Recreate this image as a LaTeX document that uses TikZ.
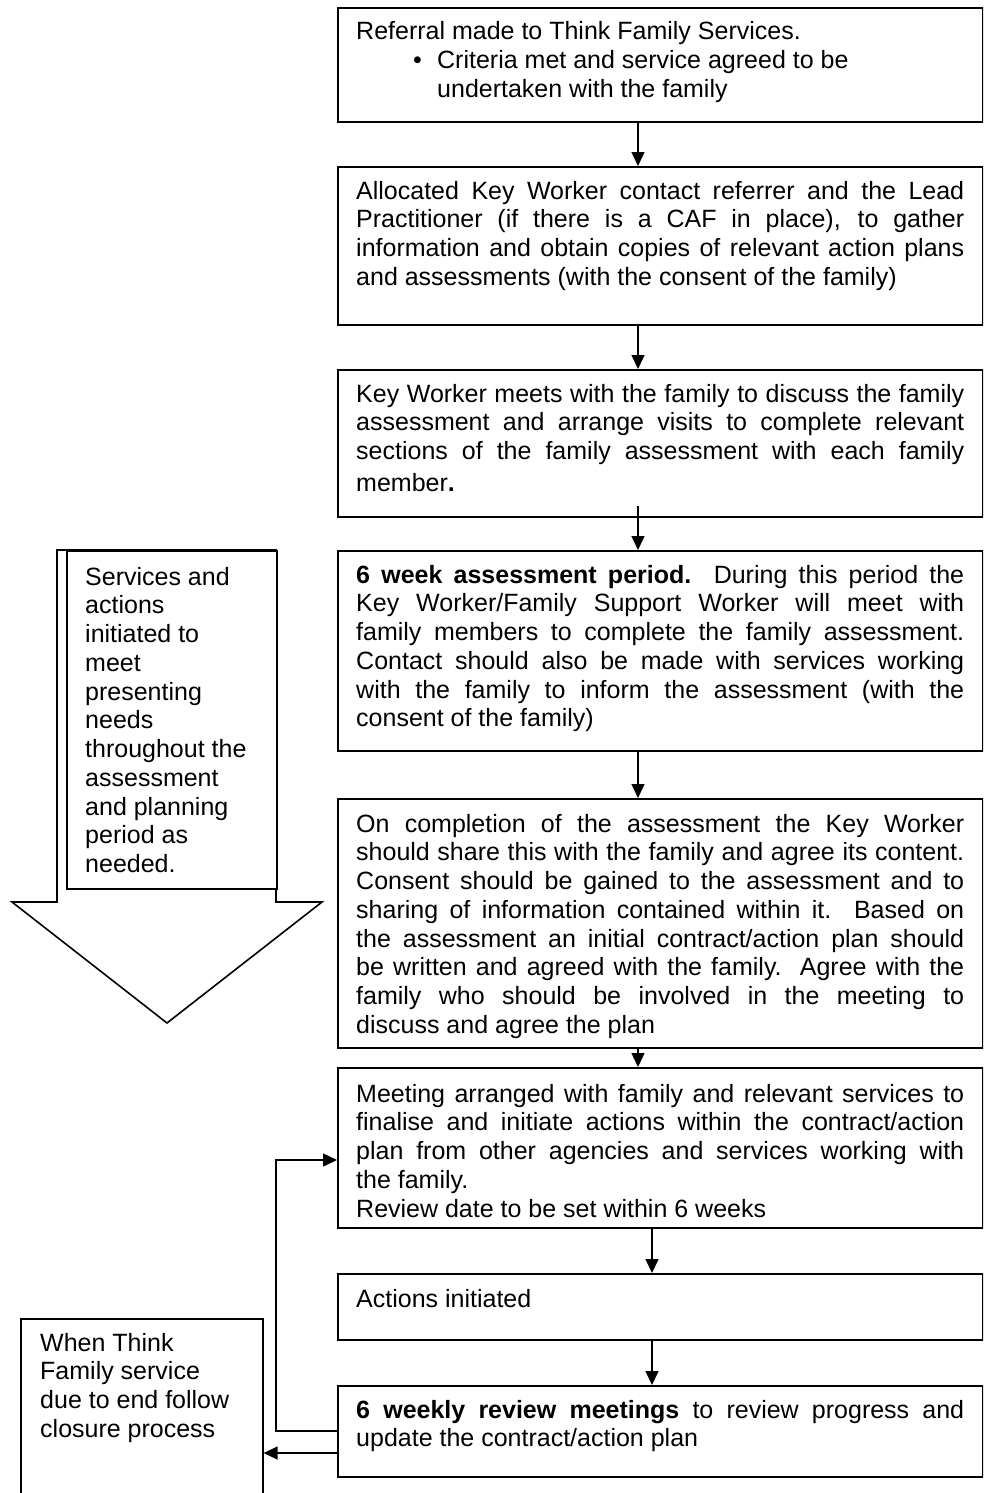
\documentclass[tikz,border=0pt]{standalone}
\usepackage{fontspec}
\setmainfont{Liberation Sans}
\usetikzlibrary{arrows.meta,calc}
\newcommand\jl[1]{\makebox[\linewidth][s]{#1}\par}
\newcommand\pl[1]{\makebox[\linewidth][l]{#1}\par}
\newcommand\txtw[2]{\parbox[t]{#1}{\fontsize{25pt}{28.75pt}\selectfont\setlength\parindent{0pt}#2}}
\tikzset{
  box/.style={draw, line width=1.6pt, anchor=north west, inner sep=0pt, minimum width=645pt},
  tx/.style={anchor=base west, inner sep=0pt},
  arr/.style={line width=1.4pt, -{Triangle[length=14pt,width=13pt]}},
  outline/.style={draw, line width=1.6pt, line join=miter}
}
\begin{document}
\begin{tikzpicture}[x=1pt,y=-1pt]
\useasboundingbox (0,0) rectangle (983,1493);
\clip (0,0) rectangle (983,1493);
\coordinate (cA) at (638,0);
\coordinate (cB) at (652,0);
% main column boxes
\node[box, minimum height=114pt] (b1) at (337,7) {};
\node[box, minimum height=158pt] (b2) at (337,166) {};
\node[box, minimum height=147pt] (b3) at (337,369) {};
\node[box, minimum height=200pt] (b4) at (337,550) {};
\node[box, minimum height=249pt] (b5) at (337,798) {};
\node[box, minimum height=160pt] (b6) at (337,1067) {};
\node[box, minimum height=66pt] (b7) at (337,1273) {};
\node[box, minimum height=91pt] (b8) at (337,1385) {};
% texts
\node[tx] (t1) at (356,40) {\txtw{608pt}{%
\pl{Referral made to Think Family Services.}
\pl{\hspace*{57pt}\makebox[24pt][l]{\textbullet}Criteria met and service agreed to be}
\pl{\hspace*{81pt}undertaken with the family}}};
\node[tx] (t2) at (356,199) {\txtw{608pt}{%
\jl{Allocated Key Worker contact referrer and the Lead}
\jl{Practitioner (if there is a CAF in place), to gather}
\jl{information and obtain copies of relevant action plans}
\pl{and assessments (with the consent of the family)}}};
\node[tx] (t3) at (356,402) {\txtw{608pt}{%
\jl{Key Worker meets with the family to discuss the family}
\jl{assessment and arrange visits to complete relevant}
\jl{sections of the family assessment with each family}
\vspace{3pt}\pl{member\textbf{.}}}};
\node[tx] (t4) at (356,583) {\txtw{608pt}{%
\jl{\textbf{6 week assessment period.}\ \ During this period the}
\jl{Key Worker/Family Support Worker will meet with}
\jl{family members to complete the family assessment.}
\jl{Contact should also be made with services working}
\jl{with the family to inform the assessment (with the}
\pl{consent of the family)}}};
\node[tx] (t5) at (356,832) {\txtw{608pt}{%
\jl{On completion of the assessment the Key Worker}
\jl{should share this with the family and agree its content.}
\jl{Consent should be gained to the assessment and to}
\jl{sharing of information contained within it.\ \ Based on}
\jl{the assessment an initial contract/action plan should}
\jl{be written and agreed with the family.\ \ Agree with the}
\jl{family who should be involved in the meeting to}
\pl{discuss and agree the plan}}};
\node[tx] (t6) at (356,1102) {\txtw{608pt}{%
\jl{Meeting arranged with family and relevant services to}
\jl{finalise and initiate actions within the contract/action}
\jl{plan from other agencies and services working with}
\pl{the family.}
\pl{Review date to be set within 6 weeks}}};
\node[tx] (t7) at (356,1307) {\txtw{608pt}{\pl{Actions initiated}}};
\node[tx] (t8) at (356,1418) {\txtw{608pt}{%
\jl{\textbf{6 weekly review meetings} to review progress and}
\pl{update the contract/action plan}}};
% big down arrow
\draw[outline] (57,550) -- (57,902) -- (12,902) -- (167,1023) -- (322,902) -- (276,902) -- (276,550) -- cycle;
\node[draw, line width=1.6pt, anchor=north west, inner sep=0pt, minimum width=210pt, minimum height=338pt, fill=white] (sv) at (66,550) {};
\node[tx] (tsv) at (85,585) {\txtw{190pt}{%
\pl{Services and}
\pl{actions}
\pl{initiated to}
\pl{meet}
\pl{presenting}
\pl{needs}
\pl{throughout the}
\pl{assessment}
\pl{and planning}
\pl{period as}
\pl{needed.}}};
% closure box
\node[draw, line width=1.6pt, anchor=north west, inner sep=0pt, minimum width=242pt, minimum height=220pt] (cl) at (20,1318) {};
\node[tx] (tcl) at (40,1351) {\txtw{220pt}{%
\pl{When Think}
\pl{Family service}
\pl{due to end follow}
\pl{closure process}}};
% connectors
\draw[arr] (b1.south -| cA) -- (b2.north -| cA);
\draw[arr] (b2.south -| cA) -- (b3.north -| cA);
\draw[arr] ($(b3.south -| cA)+(0,-12)$) -- (b4.north -| cA);
\draw[arr] (b4.south -| cA) -- (b5.north -| cA);
\draw[arr] (b5.south -| cA) -- (b6.north -| cA);
\draw[arr] (b6.south -| cB) -- (b7.north -| cB);
\draw[arr] (b7.south -| cB) -- (b8.north -| cB);
\coordinate (fb) at (276,1431);
\coordinate (fbt) at (0,1160);
\coordinate (cly) at (0,1453);
\draw[arr] (b8.west |- fb) -- (fb) |- (b6.west |- fbt);
\draw[arr] (b8.west |- cly) -- (cl.east |- cly);
\end{tikzpicture}
\end{document}
